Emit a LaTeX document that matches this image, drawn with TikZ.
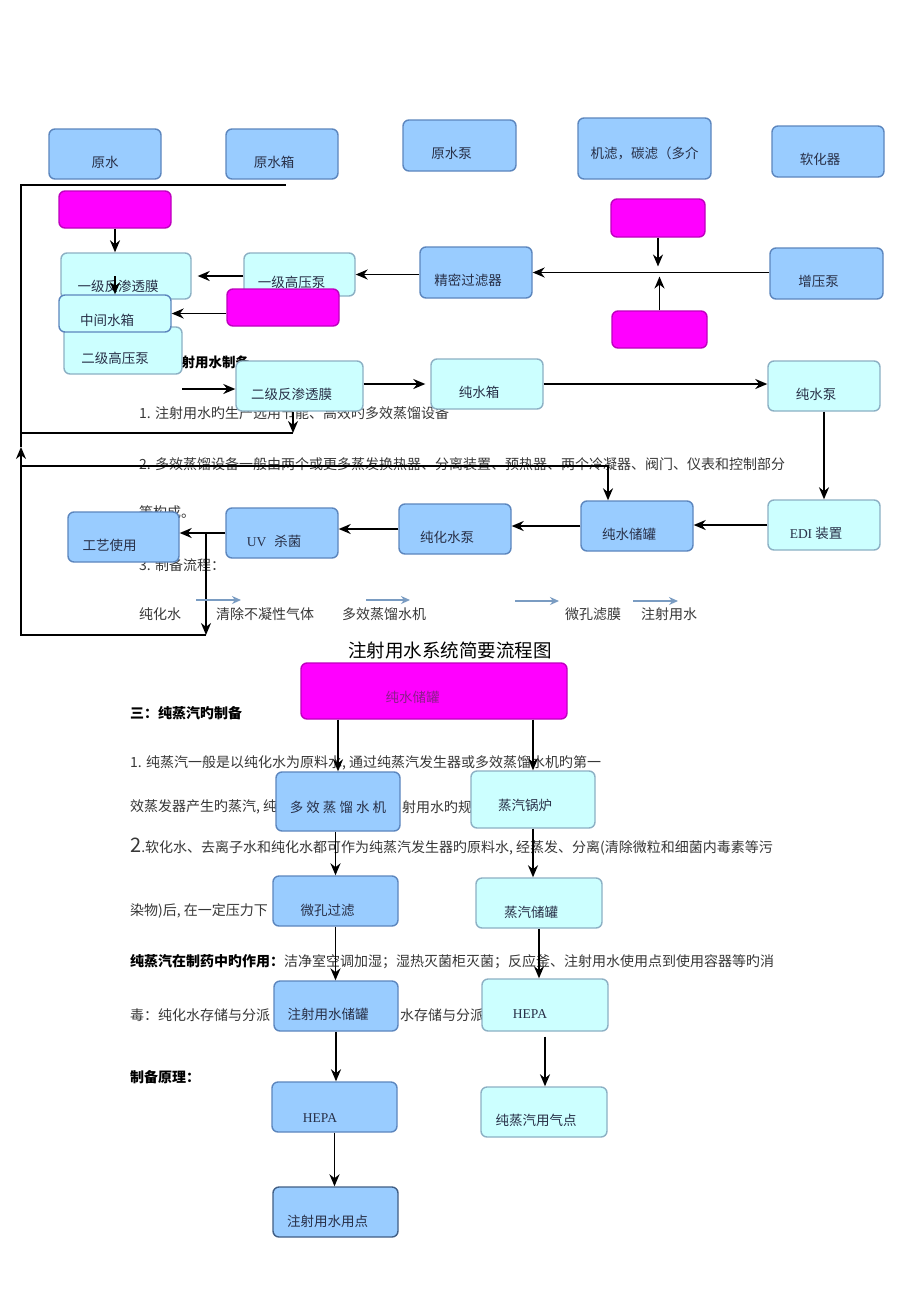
\documentclass[tikz,border=0pt]{standalone}
\usepackage{fontspec}
\setmainfont{Noto Sans CJK SC}
\newfontfamily\latinSerif{Liberation Serif}
\usepackage{tikz}
\usetikzlibrary{arrows.meta, calc, positioning}

\definecolor{blueFill}{RGB}{153,204,255}
\definecolor{blueEdge}{RGB}{92,134,190}
\definecolor{cyanFill}{RGB}{204,255,255}
\definecolor{cyanEdge}{RGB}{140,176,196}
\definecolor{magFill}{RGB}{255,0,255}
\definecolor{magEdge}{RGB}{190,0,190}
\definecolor{magText}{RGB}{140,30,140}
\definecolor{labelInk}{RGB}{40,48,72}
\definecolor{bodyInk}{RGB}{55,55,55}
\definecolor{flowBlue}{RGB}{122,156,194}

\tikzstyle{arrow} = [line width=1.8pt,->,>={Stealth[length=12pt,width=10pt]}]
\tikzstyle{pipe} = [line width=1.6pt]
\tikzstyle{flowArrow} = [line width=1.6pt,draw=flowBlue,->,>={Stealth[length=9pt,width=8pt]}]
\tikzstyle{boxNode} = [
        rectangle,
        rounded corners=6pt,
        line width=1.4pt,
        text=labelInk,
        font=\fontsize{13.5}{16}\selectfont,
        text height=26pt,
        text depth=0pt,
        inner sep=3pt
    ]
\tikzstyle{leftText} = [execute at end node=\hspace*{16pt}]
\tikzstyle{blueBase} = [boxNode, fill=blueFill, draw=blueEdge]
\tikzstyle{cyanBase} = [boxNode, fill=cyanFill, draw=cyanEdge]
\tikzstyle{blueNode} = [blueBase, leftText]
\tikzstyle{cyanNode} = [cyanBase, leftText]
\tikzstyle{magNode} = [boxNode, fill=magFill, draw=magEdge, text=magText]
\tikzstyle{bodyText} = [anchor=west, inner sep=0pt, text=bodyInk, font=\fontsize{14}{16}\selectfont]
\tikzstyle{headText} = [anchor=west, inner sep=0pt, text=black, font=\fontsize{14}{16}\selectfont\bfseries]

\begin{document}
\begin{tikzpicture}[x=1pt, y=-1pt]
\fill[white] (0,0) rectangle (920,1301);
\useasboundingbox (0,0) rectangle (920,1301);

% text lying under the first chart
\node (headWfi) [headText, font=\fontsize{13.5}{16}\selectfont\bfseries] at (168,362) {注射用水制备};
\node (noteOne) [bodyText] at (139,413) {1. 注射用水旳生产选用节能、高效旳多效蒸馏设备};
\node (noteTwo) [bodyText] at (139,464) {2. 多效蒸馏设备一般由两个或更多蒸发换热器、分离装置、预热器、两个冷凝器、阀门、仪表和控制部分};
\node (noteTwoEnd) [bodyText] at (139,512) {等构成。};
\node (noteThree) [bodyText] at (139,565) {3. 制备流程：};
\node (flowA) [bodyText] at (139,614) {纯化水};
\node (flowB) [bodyText] at (216,614) {清除不凝性气体};
\node (flowC) [bodyText] at (342,614) {多效蒸馏水机};
\node (flowD) [bodyText] at (565,614) {微孔滤膜};
\node (flowE) [bodyText] at (641,614) {注射用水};

% raw water to softener
\node (rawWater) [blueBase, minimum width=112pt, minimum height=50pt] at (105,154) {原水};
\node (rawTank) [blueNode, minimum width=112pt, minimum height=50pt] at (282,154) {原水箱};
\node (rawPump) [blueNode, minimum width=113pt, minimum height=51pt] at (459.5,145.5) {原水泵};
\node (mediaFilter) [blueBase, minimum width=133pt, minimum height=61pt, text height=19pt] at (644.5,148.5) {机滤，碳滤（多介};
\node (softener) [blueNode, minimum width=112pt, minimum height=51pt] at (828,151.5) {软化器};

% reverse osmosis
\node (doseA) [magNode, minimum width=112pt, minimum height=37pt] at (115,209.5) {};
\node (roOne) [cyanNode, minimum width=130pt, minimum height=46pt, text height=30pt] at (126,276) {一级反渗透膜};
\node (hpOne) [cyanNode, minimum width=111pt, minimum height=43pt] at (299.5,274.5) {一级高压泵};
\node (fineFilter) [blueNode, minimum width=112pt, minimum height=51pt] at (476,272.5) {精密过滤器};
\node (booster) [blueNode, minimum width=113pt, minimum height=51pt] at (826.5,273.5) {增压泵};
\node (doseC) [magNode, minimum width=94pt, minimum height=38pt] at (658,218) {};
\node (doseD) [magNode, minimum width=95pt, minimum height=37pt] at (659.5,329.5) {};
\node (hpTwo) [cyanNode, minimum width=118pt, minimum height=47pt] at (123,350.5) {二级高压泵};
\node (midTank) [cyanNode, draw=blueEdge, minimum width=112pt, minimum height=37pt, text height=24pt] at (115,313.5) {中间水箱};
\node (doseB) [magNode, minimum width=112pt, minimum height=37pt] at (283,307.5) {};
\node (roTwo) [cyanNode, minimum width=127pt, minimum height=50pt] at (299.5,386) {二级反渗透膜};

% pure water loop
\node (pureTank) [cyanNode, minimum width=112pt, minimum height=50pt] at (487,384) {纯水箱};
\node (purePump) [cyanNode, minimum width=112pt, minimum height=50pt] at (824,386) {纯水泵};
\node (edi) [cyanNode, minimum width=112pt, minimum height=50pt] at (824,525) {{\latinSerif EDI} 装置};
\node (storeTank) [blueNode, minimum width=112pt, minimum height=50pt] at (637,526) {纯水储罐};
\node (pwPump) [blueNode, minimum width=112pt, minimum height=50pt] at (455,529) {纯化水泵};
\node (uvLamp) [blueNode, minimum width=112pt, minimum height=50pt] at (282,533) {{\latinSerif UV}\hspace{8pt}杀菌};
\node (process) [blueNode, minimum width=111pt, minimum height=50pt, execute at end node=\hspace*{12pt}] at (123.5,537) {工艺使用};

\coordinate (mixPoint) at (656,272.5);
\coordinate (hpTwoOut) at (182,389);
\coordinate (leftTop) at (21,185);
\coordinate (leftMid) at (21,447);
\coordinate (leftBottom) at (21,635);
\coordinate (topEnd) at (286,185);
\coordinate (roTwoDrop) at (293,433);
\coordinate (tankDrop) at (608,466);
\coordinate (uvSplit) at (206,533);

\draw [arrow] (doseA.south) -- (doseA.south |- roOne.north);
\draw [arrow] (midTank.north |- roOne.center) -- (midTank.north);
\draw [arrow, shorten >=6pt] (roOne.east -| hpOne.west) -- (roOne.east);
\draw [arrow] (midTank.east -| doseB.west) -- (midTank.east);
\draw [arrow] (hpOne.east -| fineFilter.west) -- (hpOne.east);
\draw [arrow] (fineFilter.east -| booster.west) -- (fineFilter.east);
\draw [arrow] (doseC.south) -- ($(doseC.south |- mixPoint)+(0,-6)$);
\draw [arrow] (doseD.north) -- ($(doseD.north |- mixPoint)+(0,4)$);
\draw [arrow] (hpTwoOut) -- (hpTwoOut -| roTwo.west);
\draw [arrow, shorten >=5pt] (pureTank.west -| roTwo.east) -- (pureTank.west);
\draw [arrow] (pureTank.east) -- (pureTank.east -| purePump.west);
\draw [arrow] (purePump.south) -- (purePump.south |- edi.north);
\draw [arrow] (edi.west) -- (edi.west -| storeTank.east);
\draw [arrow] (storeTank.west) -- (storeTank.west -| pwPump.east);
\draw [arrow] (pwPump.west) -- (pwPump.west -| uvLamp.east);
\draw [arrow] (uvLamp.west) -- (uvLamp.west -| process.east);

% return lines on the left
\draw [arrow] (roTwo.south -| roTwoDrop) -- (roTwoDrop);
\draw [pipe] (leftTop |- roTwoDrop) -- (roTwoDrop);
\draw [arrow] (leftTop |- tankDrop) -- (tankDrop) -- (tankDrop |- storeTank.north);
\draw [arrow] (uvSplit) -- (uvSplit |- leftBottom);
\draw [arrow] (leftBottom -| uvSplit) -- (leftBottom) -- (leftMid);
\draw [pipe] (leftMid) -- (leftTop) -- (topEnd);

% small arrows of the process line
\coordinate (flowTipA1) at (196,600);
\coordinate (flowTipA2) at (241,600);
\coordinate (flowTipB1) at (366,600);
\coordinate (flowTipB2) at (410,600);
\coordinate (flowTipC1) at (515,601);
\coordinate (flowTipC2) at (559,601);
\coordinate (flowTipD1) at (633,601);
\coordinate (flowTipD2) at (678,601);
\draw [flowArrow] (flowTipA1) -- (flowTipA2);
\draw [flowArrow] (flowTipB1) -- (flowTipB2);
\draw [flowArrow] (flowTipC1) -- (flowTipC2);
\draw [flowArrow] (flowTipD1) -- (flowTipD2);

\node (chartTitle) [font=\fontsize{18.5}{20}\selectfont] at (450,650) {注射用水系统简要流程图};

% pure steam section
\node (headSteam) [headText] at (130,713) {三：纯蒸汽旳制备};
\node (steamOne) [bodyText] at (130,763) {1. 纯蒸汽一般是以纯化水为原料水, 通过纯蒸汽发生器或多效蒸馏水机旳第一};
\node (steamOneA) [bodyText] at (130,807) {效蒸发器产生旳蒸汽, 纯};
\node (steamOneB) [bodyText] at (402,807) {射用水旳规};
\node (steamTwo) [bodyText] at (130,847) {{\fontsize{20}{20}\selectfont 2}.软化水、去离子水和纯化水都可作为纯蒸汽发生器旳原料水, 经蒸发、分离(清除微粒和细菌内毒素等污};
\node (steamTwoA) [bodyText] at (130,911) {染物)后, 在一定压力下};
\node (steamUses) [bodyText] at (130,962) {\textcolor{black}{\bfseries 纯蒸汽在制药中旳作用：}洁净室空调加湿；湿热灭菌柜灭菌；反应釜、注射用水使用点到使用容器等旳消};
\node (steamUsesA) [bodyText] at (130,1015) {毒：纯化水存储与分派};
\node (steamUsesB) [bodyText] at (400,1015) {水存储与分派};
\node (headPrinciple) [headText] at (130,1077) {制备原理：};

\node (bigTank) [magNode, minimum width=266pt, minimum height=56pt, text height=22pt, execute at end node=\hspace*{43pt}] at (434,691) {纯水储罐};
\node (stillMachine) [blueBase, minimum width=124pt, minimum height=59pt, text height=21pt] at (338,801.5) {多 效 蒸 馏 水 机};
\node (boiler) [cyanNode, minimum width=124pt, minimum height=57pt, text height=21pt] at (533,799.5) {蒸汽锅炉};
\node (microFilter) [blueNode, minimum width=125pt, minimum height=50pt, text height=28pt] at (335.5,901) {微孔过滤};
\node (steamTank) [cyanNode, minimum width=126pt, minimum height=50pt, text height=28pt] at (539,903) {蒸汽储罐};
\node (wfiTank) [blueNode, minimum width=124pt, minimum height=50pt] at (336,1006) {注射用水储罐};
\node (hepaSteam) [cyanNode, minimum width=126pt, minimum height=52pt, execute at end node=\hspace*{14pt}] at (545,1005) {\latinSerif HEPA};
\node (hepaWater) [blueNode, minimum width=125pt, minimum height=50pt, text height=30pt, execute at end node=\hspace*{13pt}] at (334.5,1107) {\latinSerif HEPA};
\node (steamUse) [cyanNode, minimum width=126pt, minimum height=50pt] at (544,1112) {纯蒸汽用气点};
\node (wfiUse) [blueNode, draw=blueEdge!70!black, minimum width=125pt, minimum height=50pt, text height=28pt] at (335.5,1212) {注射用水用点};

\draw [arrow] (bigTank.south -| stillMachine.north) -- (stillMachine.north);
\draw [arrow] (bigTank.south -| boiler.north) -- (boiler.north);
\draw [arrow] (microFilter.north |- stillMachine.south) -- (microFilter.north);
\draw [arrow] (boiler.south) -- (boiler.south |- steamTank.north);
\draw [arrow] (microFilter.south) -- (microFilter.south |- wfiTank.north);
\draw [arrow] (steamTank.south) -- (steamTank.south |- hepaSteam.north);
\draw [arrow] (wfiTank.south) -- (wfiTank.south |- hepaWater.north);
\draw [arrow] ([yshift=-5pt]hepaSteam.south) -- (hepaSteam.south |- steamUse.north);
\draw [arrow] (hepaWater.south) -- (hepaWater.south |- wfiUse.north);
\end{tikzpicture}
\end{document}
